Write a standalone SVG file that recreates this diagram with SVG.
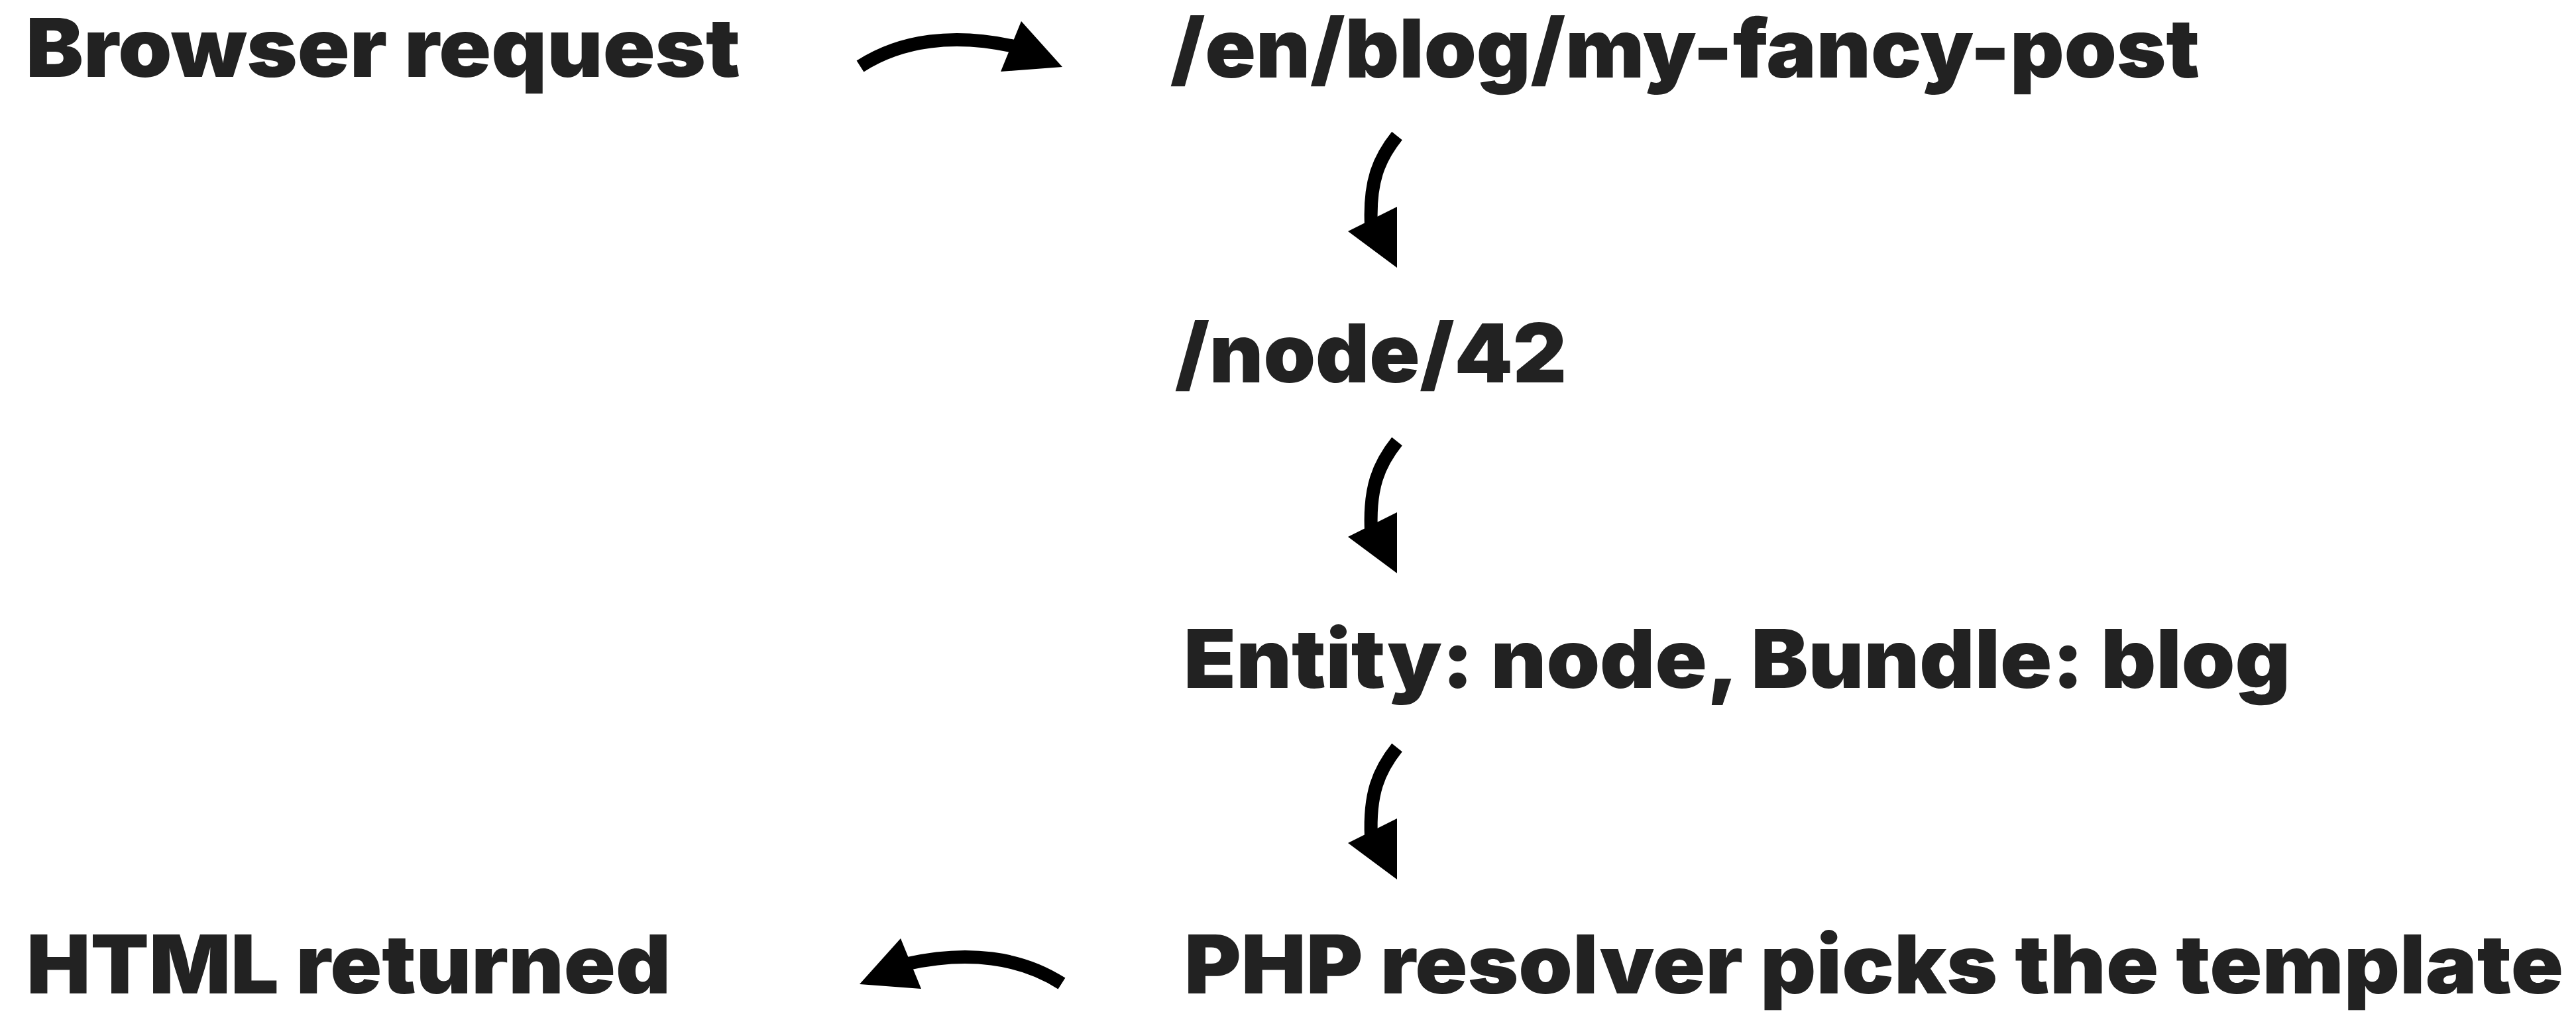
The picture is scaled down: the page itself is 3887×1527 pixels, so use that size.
<svg xmlns="http://www.w3.org/2000/svg" xmlns:xlink="http://www.w3.org/1999/xlink" width="3887" height="1527" viewBox="0 0 3887 1527">
<style>
.lbl{font-family:Inter,"Liberation Sans",sans-serif;font-weight:900;font-size:123px;fill:#222222}
.shaft{fill:none;stroke:#000000;stroke-width:20;stroke-linecap:butt}
.head{fill:#000000;stroke:none}
</style>
<defs>
<g id="arrowDown">
<path class="shaft" d="M2108,205 C2080,240 2066,275 2069,340"/>
<polygon class="head" points="2108,312 2034,349 2108,404"/>
</g>
<g id="arrowSide">
<path class="shaft" d="M1298,100 C1360,60 1440,50 1530,70"/>
<polygon class="head" points="1541,32 1603,101 1510,108"/>
</g>
</defs>
<rect x="0" y="0" width="3887" height="1527" fill="#ffffff"/>
<g id="nodes">
<g id="node-browser"><text class="lbl" x="39" y="116" textLength="1078" lengthAdjust="spacingAndGlyphs">Browser request</text></g>
<g id="node-path"><text class="lbl" x="1766" y="117" textLength="1553" lengthAdjust="spacingAndGlyphs">/en/blog/my-fancy-post</text></g>
<g id="node-internal"><text class="lbl" x="1773" y="577" textLength="591" lengthAdjust="spacingAndGlyphs">/node/42</text></g>
<g id="node-entity"><text class="lbl" x="1786" y="1038" textLength="1670" lengthAdjust="spacingAndGlyphs">Entity: node, Bundle: blog</text></g>
<g id="node-resolver"><text class="lbl" x="1787" y="1499" textLength="2081" lengthAdjust="spacingAndGlyphs">PHP resolver picks the template</text></g>
<g id="node-html"><text class="lbl" x="40" y="1499" textLength="972" lengthAdjust="spacingAndGlyphs">HTML returned</text></g>
</g>
<g id="connectors">
<use xlink:href="#arrowSide"/>
<use xlink:href="#arrowDown"/>
<use xlink:href="#arrowDown" transform="translate(0,461)"/>
<use xlink:href="#arrowDown" transform="translate(0,923)"/>
<use xlink:href="#arrowSide" transform="matrix(-1,0,0,1,2900,1384)"/>
</g>
</svg>
